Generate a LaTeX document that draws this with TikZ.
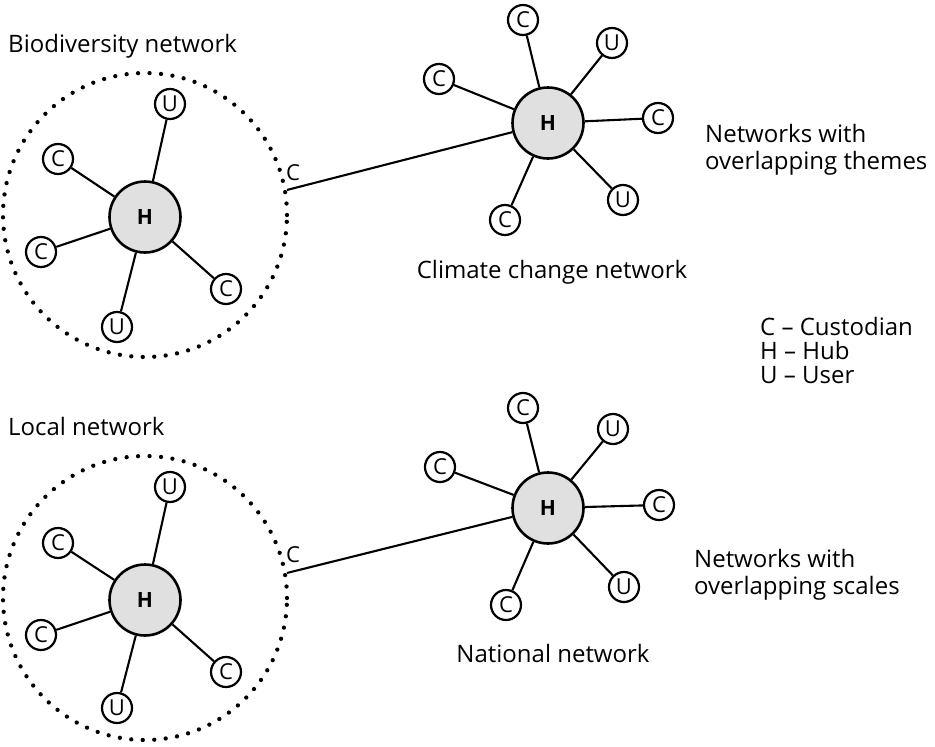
\documentclass[tikz,border=0pt]{standalone}
\usepackage{fontspec}
\setmainfont{Open Sans}
\begin{document}
\begin{tikzpicture}[x=1pt,y=-1pt,
  hub/.style={circle,draw,line width=2.6pt,fill=black!12,minimum size=71pt,inner sep=0pt,font=\fontsize{21}{21}\selectfont\bfseries},
  sat/.style={circle,draw,line width=2.2pt,fill=white,minimum size=30pt,inner sep=0pt,font=\fontsize{22}{22}\selectfont},
  spoke/.style={line width=2.1pt},
  ring/.style={circle,draw,line width=4.3pt,dash pattern=on 0pt off 11.5pt,line cap=round,minimum size=284pt,inner sep=0pt},
  lbl/.style={inner sep=0pt,font=\fontsize{24}{27}\selectfont},
  clbl/.style={inner sep=0pt,font=\fontsize{22}{22}\selectfont}
]
\useasboundingbox (0,0) rectangle (935,747);

% ---------- Biodiversity network ----------
\node[ring] (R1) at (145,215) {};
\node[hub] (H1) at (145,217) {H};
\node[sat] (a1) at (170,104) {U};
\node[sat] (a2) at (58,159) {C};
\node[sat] (a3) at (41,252) {C};
\node[sat] (a4) at (117,327) {U};
\node[sat] (a5) at (226,289) {C};
\foreach \n in {a1,a2,a3,a4,a5} \draw[spoke] (H1) -- (\n);
\node[clbl,anchor=base west] (cl1) at (286,180) {C};

% ---------- Climate change network ----------
\node[hub] (H2) at (548,123) {H};
\node[sat] (b1) at (523,20) {C};
\node[sat] (b2) at (612,43) {U};
\node[sat] (b3) at (439,79) {C};
\node[sat] (b4) at (658,118) {C};
\node[sat] (b5) at (623,200) {U};
\node[sat] (b6) at (505,220) {C};
\foreach \n in {b1,b2,b3,b4,b5,b6} \draw[spoke] (H2) -- (\n);
\draw[spoke] (R1.10.5) -- (H2);

% ---------- Local network ----------
\node[ring] (R3) at (145,598) {};
\node[hub] (H3) at (145,600) {H};
\node[sat] (c1) at (170,487) {U};
\node[sat] (c2) at (58,543) {C};
\node[sat] (c3) at (41,635) {C};
\node[sat] (c4) at (117,708) {U};
\node[sat] (c5) at (226,672) {C};
\foreach \n in {c1,c2,c3,c4,c5} \draw[spoke] (H3) -- (\n);
\node[clbl,anchor=base west] (cl3) at (286,562) {C};

% ---------- National network ----------
\node[hub] (H4) at (548,508) {H};
\node[sat] (d1) at (523,408) {C};
\node[sat] (d2) at (613,429) {U};
\node[sat] (d3) at (440,467) {C};
\node[sat] (d4) at (659,505) {C};
\node[sat] (d5) at (624,587) {U};
\node[sat] (d6) at (506,605) {C};
\foreach \n in {d1,d2,d3,d4,d5,d6} \draw[spoke] (H4) -- (\n);
\draw[spoke] (R3.10) -- (H4);

% ---------- Labels ----------
\node[lbl,anchor=base west] (t1) at (8,52) {Biodiversity network};
\node[lbl,anchor=base] (t2) at (552,278) {Climate change network};
\node[lbl,anchor=base west,align=left] (t3) at (705,169) {Networks with\\overlapping themes};
\node[lbl,anchor=base west,align=left,font=\fontsize{24}{24}\selectfont] (t4) at (760,383) {C -- Custodian\\H -- Hub\\U -- User};
\node[lbl,anchor=base west] (t5) at (8,435) {Local network};
\node[lbl,anchor=base] (t6) at (553,662) {National network};
\node[lbl,anchor=base west,align=left] (t7) at (694,594) {Networks with\\overlapping scales};
\end{tikzpicture}
\end{document}
